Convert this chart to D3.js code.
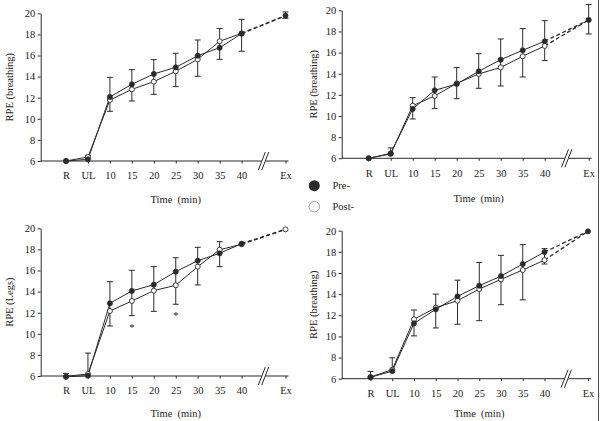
<!DOCTYPE html>
<html><head><meta charset="utf-8">
<script src="https://cdn.jsdelivr.net/npm/d3@7"></script>
<style>body{margin:0;background:#fff}svg{display:block}text{font-family:"Liberation Serif","Times New Roman",serif;fill:#222}</style>
</head><body>
<script>
// ---- data ----
const categories = ["R","UL","10","15","20","25","30","35","40","Ex"];
const yTicks = [6,8,10,12,14,16,18,20];
const yLabels = ["RPE (breathing)","RPE (breathing)","RPE (Legs)","RPE (breathing)"];
const xTitle = "Time  (min)";
const legendLabels = ["Pre-","Post-"];

const p1Pre  = [6.0, 6.16, 12.07, 13.27, 14.25, 14.88, 15.98, 16.74, 18.07, 19.78];
const p1Post = [6.0, 6.38, 11.78, 12.79, 13.52, 14.5, 15.64, 17.35, 18.1, null];
const p1Top  = [null, 6.54, 13.93, 14.66, 15.61, 16.21, 17.47, 18.55, 19.43, 20.13];
const p1Bot  = [null, null, 10.71, 11.69, 12.32, 13.05, 14.03, 15.64, 16.4, 19.53];

const p2Pre  = [6.0, 6.47, 10.67, 12.43, 13.03, 14.23, 15.33, 16.22, 17.07, 19.09];
const p2Post = [6.0, 6.41, 10.98, 11.9, 13.09, 13.98, 14.6, 15.65, 16.63, null];
const p2Top  = [null, 6.98, 11.74, 13.69, 14.58, 15.9, 17.29, 18.27, 19.02, 20.54];
const p2Bot  = [null, null, 9.72, 10.7, 11.64, 12.62, 12.84, 13.69, 15.24, 17.76];

const p3Pre  = [5.92, 6.03, 12.89, 14.06, 14.66, 15.89, 16.93, 17.63, 18.54, null];
const p3Post = [5.97, 6.19, 12.16, 13.11, 14.09, 14.6, 16.36, 17.97, 18.48, 19.9];
const p3Top  = [6.25, 8.17, 14.94, 16.02, 16.37, 17.21, 18.2, 18.73, null, null];
const p3Bot  = [null, null, 10.74, 11.72, 12.13, 12.8, 14.63, 16.36, null, null];
const p3Sig  = ["15","25"];

const p4Pre  = [6.13, 6.72, 11.24, 12.56, 13.79, 14.8, 15.71, 16.85, 17.98, 19.94];
const p4Post = [6.16, 6.85, 11.62, 12.72, 13.38, 14.48, 15.4, 16.28, 17.22, null];
const p4Top  = [6.69, 7.98, 12.5, 14.0, 15.32, 17.0, 17.67, 18.68, 18.3, null];
const p4Bot  = [null, null, 10.05, 10.8, 11.15, 11.49, 13.0, 13.46, 16.85, null];

const panels = [
  {pre:p1Pre, post:p1Post, top:p1Top, bot:p1Bot, sig:[], label:yLabels[0]},
  {pre:p2Pre, post:p2Post, top:p2Top, bot:p2Bot, sig:[], label:yLabels[1]},
  {pre:p3Pre, post:p3Post, top:p3Top, bot:p3Bot, sig:p3Sig, label:yLabels[2]},
  {pre:p4Pre, post:p4Post, top:p4Top, bot:p4Bot, sig:[], label:yLabels[3]}
];

// ---- layout ----
const layout = [
  {x0:40.7, yTop:13.3, yBot:161, xR:66, xEx:285.5, titleY:202.5, labX:12.5},
  {x0:341.7, yTop:10.3, yBot:158.3, xR:368.7, xEx:588.7, titleY:201.5, labX:316.5},
  {x0:40.7, yTop:228.3, yBot:376, xR:66, xEx:285.5, titleY:416.5, labX:12.5},
  {x0:341.7, yTop:230.7, yBot:378.7, xR:370.5, xEx:588, titleY:416.5, labX:316.5}
];
const ink = "#2a2a2a";
const fs = "10.5px";

const svg = d3.select("body").append("svg").attr("width",600).attr("height",421);

const domain = categories.slice(0,9).concat(["gap"]).concat(categories.slice(9));

panels.forEach((p,pi) => {
  const L = layout[pi];
  const x = d3.scalePoint().domain(domain).range([L.xR, L.xEx]);
  const y = d3.scaleLinear().domain([6,20]).range([L.yBot, L.yTop]);
  const g = svg.append("g");

  // y axis
  const ya = g.append("g").attr("transform",`translate(${L.x0},0)`)
    .call(d3.axisLeft(y).tickValues(yTicks).tickSize(3).tickPadding(2.5).tickSizeOuter(0));
  ya.select(".domain").attr("stroke",ink);
  ya.selectAll(".tick line").attr("stroke",ink);
  ya.selectAll("text").style("font-size",fs).attr("fill","#222");

  // x axis
  const xa = g.append("g").attr("transform",`translate(0,${L.yBot})`)
    .call(d3.axisBottom(x).tickValues(categories).tickSize(2.5).tickPadding(8.5).tickSizeOuter(0));
  xa.select(".domain").attr("d",`M${L.x0},0H${L.xEx+3}`).attr("stroke",ink);
  xa.selectAll(".tick line").attr("stroke",ink);
  xa.selectAll("text").style("font-size",fs).attr("fill","#222");

  // axis break
  const gx = x("gap");
  g.append("rect").attr("x",gx-2).attr("y",L.yBot-2).attr("width",4).attr("height",4).attr("fill","#fff");
  [-1.7,1.7].forEach(o => {
    g.append("line").attr("x1",gx+o-3.5).attr("y1",L.yBot+9).attr("x2",gx+o+3.5).attr("y2",L.yBot-9)
      .attr("stroke",ink).attr("stroke-width",1);
  });

  // titles
  g.append("text").attr("x",(L.xR+L.xEx)/2).attr("y",L.titleY).attr("text-anchor","middle")
    .style("font-size",fs).style("white-space","pre").text(xTitle);
  g.append("text").attr("transform",`translate(${L.labX},${(L.yTop+L.yBot)/2}) rotate(-90)`)
    .attr("text-anchor","middle").style("font-size",fs).text(p.label);

  // error bars
  categories.forEach((c,i) => {
    const vals = [p.pre[i], p.post[i]].filter(v => v != null);
    const hi = p.top[i] != null ? p.top[i] : d3.max(vals);
    const lo = p.bot[i] != null ? p.bot[i] : d3.min(vals);
    if (p.top[i] == null && p.bot[i] == null) return;
    const cx = x(c);
    g.append("line").attr("x1",cx).attr("x2",cx).attr("y1",y(hi)).attr("y2",y(lo)).attr("stroke",ink).attr("stroke-width",1);
    if (p.top[i] != null) g.append("line").attr("x1",cx-3).attr("x2",cx+3).attr("y1",y(hi)).attr("y2",y(hi)).attr("stroke",ink);
    if (p.bot[i] != null) g.append("line").attr("x1",cx-3).attr("x2",cx+3).attr("y1",y(lo)).attr("y2",y(lo)).attr("stroke",ink);
  });

  // lines
  const line = d3.line().x(d => x(d.c)).y(d => y(d.v));
  [p.post, p.pre].forEach((s, si) => {
    const other = si === 0 ? p.pre : p.post;
    const solid = categories.slice(0,9).map((c,i) => ({c, v:s[i]}));
    g.append("path").attr("d", line(solid)).attr("fill","none").attr("stroke",ink).attr("stroke-width",1);
    const exV = s[9] != null ? s[9] : other[9];
    g.append("path").attr("d", line([{c:"40",v:s[8]},{c:"Ex",v:exV}]))
      .attr("fill","none").attr("stroke",ink).attr("stroke-width",1.3).attr("stroke-dasharray","4,2.5");
  });

  // markers: post (open) first, pre (filled) on top
  categories.forEach((c,i) => {
    if (p.post[i] != null) g.append("circle").attr("cx",x(c)).attr("cy",y(p.post[i])).attr("r",2.5)
      .attr("fill","#fff").attr("stroke",ink).attr("stroke-width",0.9);
  });
  categories.forEach((c,i) => {
    if (p.pre[i] != null) g.append("circle").attr("cx",x(c)).attr("cy",y(p.pre[i])).attr("r",2.6)
      .attr("fill",ink).attr("stroke",ink).attr("stroke-width",0.6);
  });

  // significance
  p.sig.forEach(c => {
    const i = categories.indexOf(c);
    g.append("text").attr("x",x(c)).attr("y",y(p.bot[i])+15).attr("text-anchor","middle")
      .style("font-size",fs).text("*");
  });
});

// legend
const lg = svg.append("g");
lg.append("circle").attr("cx",314.3).attr("cy",185.7).attr("r",5.5).attr("fill",ink);
lg.append("circle").attr("cx",314.3).attr("cy",206.7).attr("r",5.3).attr("fill","#fff").attr("stroke","#888").attr("stroke-width",0.8);
lg.append("text").attr("x",332.5).attr("y",189.3).style("font-size",fs).text(legendLabels[0]);
lg.append("text").attr("x",332.5).attr("y",210.3).style("font-size",fs).text(legendLabels[1]);

// right border
svg.append("line").attr("x1",598.5).attr("x2",598.5).attr("y1",0).attr("y2",421).attr("stroke","#555").attr("stroke-width",1);
</script>
</body></html>
